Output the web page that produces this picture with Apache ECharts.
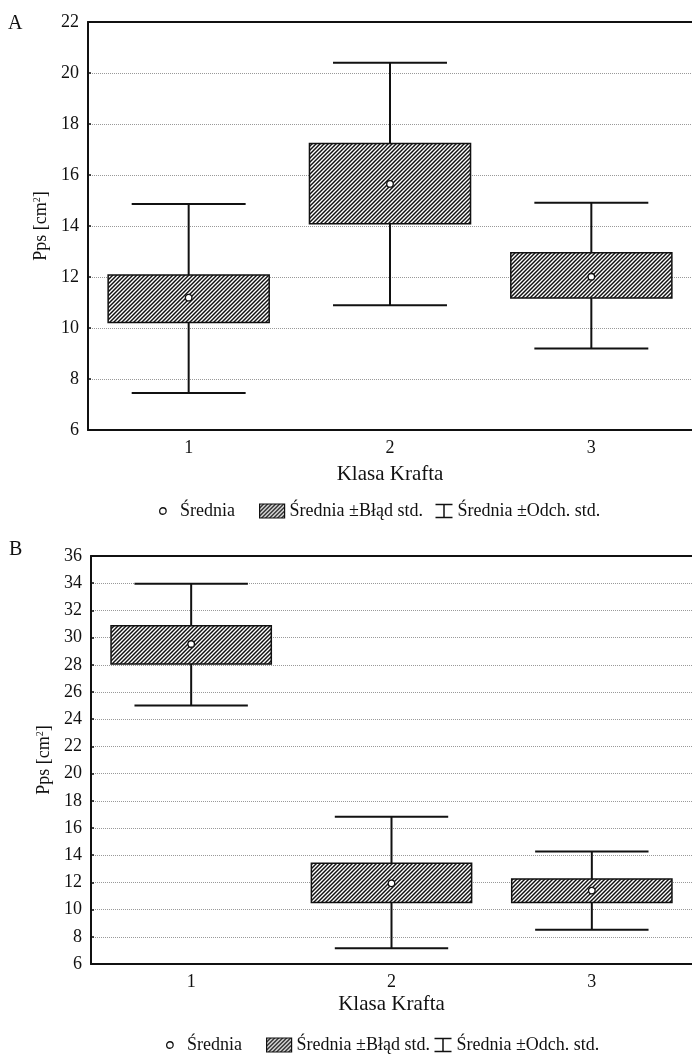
<!DOCTYPE html>
<html><head><meta charset="utf-8">
<script src="https://cdn.jsdelivr.net/npm/echarts@6/dist/echarts.min.js"></script>
<style>html,body{margin:0;padding:0;background:#fff}#c{width:692px;height:1055px}</style>
</head><body><div id="c"></div>
<script>
// ---------- data ----------
const categories = ['1', '2', '3'];
const panelLabels = ['A', 'B'];
const xAxisName = 'Klasa Krafta';
const legendNames = ['Średnia', 'Średnia ±Błąd std.', 'Średnia ±Odch. std.'];
// Panel A
const meanA   = [11.19, 15.65, 12.01];
const seLowA  = [10.22, 14.09, 11.18];
const seHighA = [12.08, 17.24, 12.95];
const sdLowA  = [7.45, 10.89, 9.20];
const sdHighA = [14.86, 20.40, 14.91];
const yRangeA = [6, 22, 2];
// Panel B
const meanB   = [29.53, 11.93, 11.40];
const seLowB  = [28.06, 10.53, 10.53];
const seHighB = [30.88, 13.40, 12.25];
const sdLowB  = [25.00, 7.15, 8.52];
const sdHighB = [33.96, 16.83, 14.28];
const yRangeB = [6, 36, 2];

// ---------- styling helpers ----------
const FONT = "'Liberation Serif', 'DejaVu Serif', serif";
function hatchCanvas() {
  const s = 4, c = document.createElement('canvas');
  c.width = c.height = s;
  const x = c.getContext('2d');
  x.fillStyle = '#fff'; x.fillRect(0, 0, s, s);
  x.strokeStyle = '#111'; x.lineWidth = 1.45;
  x.beginPath();
  x.moveTo(0, s); x.lineTo(s, 0);
  x.moveTo(-1, 1); x.lineTo(1, -1);
  x.moveTo(s - 1, s + 1); x.lineTo(s + 1, s - 1);
  x.stroke();
  return c;
}
const HATCH = { image: hatchCanvas(), repeat: 'repeat' };

function whiskerRender(params, api) {
  const i = api.value(0);
  const lo = api.coord([i, api.value(1)]);
  const hi = api.coord([i, api.value(2)]);
  const band = api.size([1, 0])[0];
  const hw = band * 0.283;
  const st = { stroke: '#111', lineWidth: 2 };
  return { type: 'group', children: [
    { type: 'line', shape: { x1: hi[0], y1: hi[1], x2: lo[0], y2: lo[1] }, style: st },
    { type: 'line', shape: { x1: hi[0] - hw, y1: hi[1], x2: hi[0] + hw, y2: hi[1] }, style: st },
    { type: 'line', shape: { x1: lo[0] - hw, y1: lo[1], x2: lo[0] + hw, y2: lo[1] }, style: st }
  ]};
}
function boxRender(params, api) {
  const i = api.value(0);
  const lo = api.coord([i, api.value(1)]);
  const hi = api.coord([i, api.value(2)]);
  const band = api.size([1, 0])[0];
  const w = band * 0.8;
  return { type: 'rect', shape: { x: hi[0] - w / 2, y: hi[1], width: w, height: lo[1] - hi[1] },
    style: { fill: HATCH, stroke: '#111', lineWidth: 1.5 } };
}

function panelSeries(idx, mean, seLow, seHigh, sdLow, sdHigh) {
  return [
    { type: 'custom', name: legendNames[2], xAxisIndex: idx * 2, yAxisIndex: idx, renderItem: whiskerRender,
      itemStyle: { color: '#111' }, z: 2,
      data: categories.map((c, i) => [i, sdLow[i], sdHigh[i]]) },
    { type: 'custom', name: legendNames[1], xAxisIndex: idx * 2, yAxisIndex: idx, renderItem: boxRender,
      itemStyle: { color: HATCH }, z: 3,
      data: categories.map((c, i) => [i, seLow[i], seHigh[i]]) },
    { type: 'scatter', name: legendNames[0], xAxisIndex: idx * 2, yAxisIndex: idx, z: 4,
      symbol: 'circle', symbolSize: 6.5,
      itemStyle: { color: '#fff', borderColor: '#111', borderWidth: 1.3, opacity: 1 },
      data: mean }
  ];
}

const grids = [
  { left: 88, top: 22, width: 605, height: 408 },
  { left: 91, top: 556, width: 606, height: 408 }
];

function xAxes(idx, nameGap) {
  return [
    { type: 'category', gridIndex: idx, data: categories, position: 'bottom',
      name: xAxisName, nameLocation: 'middle', nameGap: nameGap,
      nameTextStyle: { fontFamily: FONT, fontSize: 21, color: '#111' },
      axisLine: { lineStyle: { color: '#111', width: 2 } },
      axisTick: { inside: true, length: 4, alignWithLabel: true, lineStyle: { color: '#111', width: 1.5 } },
      axisLabel: { fontFamily: FONT, fontSize: 18, color: '#111', margin: 9 },
      splitLine: { show: false } },
    { type: 'category', gridIndex: idx, data: categories, position: 'top',
      axisLine: { lineStyle: { color: '#111', width: 2 } },
      axisTick: { inside: true, length: 4, alignWithLabel: true, lineStyle: { color: '#111', width: 1.5 } },
      axisLabel: { show: false }, splitLine: { show: false } }
  ];
}
function yAxis(idx, range) {
  return { type: 'value', gridIndex: idx, min: range[0], max: range[1], interval: range[2],
    name: '{a|Pps [cm}{s|2}{a|]}', nameLocation: 'middle', nameGap: 38, nameRotate: 90,
    nameTextStyle: { fontFamily: FONT, fontSize: 18, color: '#111',
      rich: { a: { fontFamily: FONT, fontSize: 18, color: '#111' },
              s: { fontFamily: FONT, fontSize: 10, color: '#111', verticalAlign: 'top', padding: [0, 0, 8, 0] } } },
    axisLine: { show: true, lineStyle: { color: '#111', width: 2 } },
    axisTick: { show: true, inside: true, length: 3, lineStyle: { color: '#111', width: 1.5 } },
    axisLabel: { fontFamily: FONT, fontSize: 18, color: '#111', margin: 9 },
    splitLine: { show: true, lineStyle: { color: '#999', type: 'dotted', width: 1 } } };
}

function legends(top, lefts) {
  const ts = { fontFamily: FONT, fontSize: 18, color: '#111' };
  return [
    { left: lefts[0], top: top, selectedMode: false, itemWidth: 24, itemHeight: 6.5, textStyle: ts,
      data: [{ name: legendNames[0], icon: 'circle', itemStyle: { color: '#fff', borderColor: '#111', borderWidth: 1.3 } }] },
    { left: lefts[1], top: top, selectedMode: false, itemWidth: 25, itemHeight: 14, textStyle: ts,
      data: [{ name: legendNames[1], icon: 'rect', itemStyle: { color: HATCH, borderColor: '#111', borderWidth: 1.2 } }] },
    { left: lefts[2], top: top, selectedMode: false, itemWidth: 17, itemHeight: 13, textStyle: ts,
      data: [{ name: legendNames[2], icon: 'path://M0 0H17M8.5 0V13M0 13H17', itemStyle: { color: 'none', borderColor: '#111', borderWidth: 1.5 } }] }
  ];
}

const chart = echarts.init(document.getElementById('c'), null, { renderer: 'canvas' });
chart.setOption({
  backgroundColor: '#fff',
  animation: false,
  grid: grids,
  xAxis: [...xAxes(0, 34), ...xAxes(1, 30)],
  yAxis: [yAxis(0, yRangeA), yAxis(1, yRangeB)],
  legend: [...legends(497, [154, 254, 428]), ...legends(1031, [161, 261, 427])],
  graphic: [
    { type: 'text', left: 8, top: 14, style: { text: panelLabels[0], font: '20px ' + FONT, fill: '#111' } },
    { type: 'text', left: 9, top: 540, style: { text: panelLabels[1], font: '20px ' + FONT, fill: '#111' } }
  ],
  series: [
    ...panelSeries(0, meanA, seLowA, seHighA, sdLowA, sdHighA),
    ...panelSeries(1, meanB, seLowB, seHighB, sdLowB, sdHighB)
  ]
});
</script></body></html>
